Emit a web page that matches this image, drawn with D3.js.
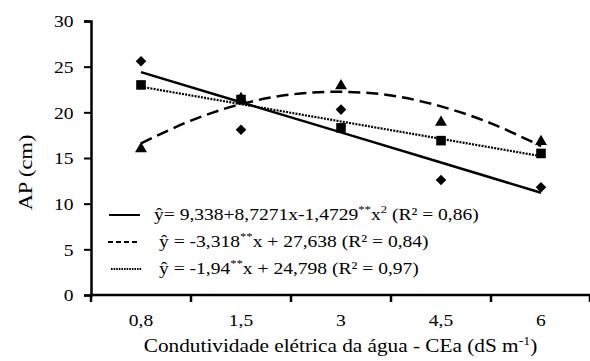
<!DOCTYPE html>
<html>
<head>
<meta charset="utf-8">
<script src="https://cdn.jsdelivr.net/npm/d3@7"></script>
<style>
  html, body { margin: 0; padding: 0; background: #fff; }
  svg text { font-family: "Liberation Serif", "Times New Roman", Times, serif !important; }
</style>
</head>
<body>
<svg id="chart" width="590" height="361"></svg>
<script>
// ---- data ----
const categories = ["0,8", "1,5", "3", "4,5", "6"];
const yTicks = [0, 5, 10, 15, 20, 25, 30];
const diamondValues = [25.6, 18.1, 20.3, 12.6, 11.8];
const triangleValues = [16.0, 21.5, 22.9, 18.9, 16.8];
const squareValues = [23.0, 21.4, 18.3, 16.9, 15.5];
// fitted curves
const solidFit = [24.4, 21.1, 17.8, 14.5, 11.2];           // at category centres
const dashedFitPos = [1, 1.5, 2, 2.5, 3, 3.5, 4, 4.5, 5];   // category positions (1-based)
const dashedFit = [16.6, 19.1, 20.9, 21.95, 22.25, 21.85, 20.65, 18.8, 16.3];
const dottedFit = [22.8, 20.9, 19.0, 17.1, 15.2];
const legendLabels = [
  ["ŷ= 9,338+8,7271x-1,4729", "**", "x", "2", " (R² = 0,86)"],
  ["ŷ = -3,318", "**", "x + 27,638 (R² = 0,84)"],
  ["ŷ = -1,94", "**", "x + 24,798 (R² = 0,97)"]
];
const xTitle = "Condutividade elétrica da água - CEa (dS m";
const yTitle = "AP (cm)";

// ---- layout ----
const svg = d3.select("#chart");
const mLeft = 91, mRight = 591, mTop = 21, mBottom = 295;
const sx = 1.15; // horizontal stretch of the original lettering

const x = d3.scaleBand().domain(categories).range([mLeft, mRight]).padding(0);
const xPos = d3.scaleLinear().domain([0.5, categories.length + 0.5]).range([mLeft, mRight]);
const y = d3.scaleLinear().domain([0, 30]).range([mBottom, mTop]);

const cx = (d, i) => x(categories[i]) + x.bandwidth() / 2;

// axes
const yAxis = d3.axisLeft(y).tickValues(yTicks).tickSize(7).tickPadding(10).tickFormat(d3.format("d"));
const gy = svg.append("g").attr("transform", `translate(${mLeft},0)`).call(yAxis);
gy.select(".domain").attr("stroke", "#000").attr("stroke-width", 2.5);
gy.selectAll(".tick line").attr("stroke", "#000").attr("stroke-width", 2);
gy.selectAll(".tick text").attr("font-size", 17).attr("fill", "#000")
  .attr("x", -17.5 / sx).attr("dy", "0.34em").attr("transform", `scale(${sx},1)`);

const xAxis = d3.axisBottom(x).tickSize(0).tickPadding(31);
const gx = svg.append("g").attr("transform", `translate(0,${mBottom})`).call(xAxis);
gx.select(".domain").attr("stroke", "#000").attr("stroke-width", 2.5)
  .attr("d", `M${mLeft - 1},0H${mRight}`);
gx.selectAll(".tick text").attr("font-size", 17).attr("fill", "#000").attr("dy", "0")
  .attr("transform", `scale(${sx},1)`);
// tick marks at band boundaries
const boundaries = categories.map(c => x(c)).concat([mRight - 1]);
gx.selectAll(".bound").data(boundaries).enter().append("line")
  .attr("x1", d => d).attr("x2", d => d).attr("y1", 0).attr("y2", 7)
  .attr("stroke", "#000").attr("stroke-width", 2.5);

// titles
const xt = svg.append("text").attr("transform", `translate(340.5,352) scale(${sx},1)`)
  .attr("text-anchor", "middle").attr("font-size", 18.5).attr("fill", "#000");
xt.append("tspan").text(xTitle);
xt.append("tspan").attr("font-size", 12).attr("dy", -7).text("-1");
xt.append("tspan").attr("dy", 7).text(")");

svg.append("text").attr("transform", `translate(32,172.5) rotate(-90) scale(${sx},1)`)
  .attr("text-anchor", "middle").attr("font-size", 19.5).attr("fill", "#000").text(yTitle);

// fitted lines
const line = d3.line().x(d => xPos(d[0])).y(d => y(d[1]));
const solidPts = solidFit.map((v, i) => [i + 1, v]);
const dottedPts = dottedFit.map((v, i) => [i + 1, v]);
const dashedPts = dashedFit.map((v, i) => [dashedFitPos[i], v]);

svg.append("path").attr("d", line(solidPts)).attr("fill", "none")
  .attr("stroke", "#000").attr("stroke-width", 2.5);
svg.append("path").attr("d", d3.line().x(d => xPos(d[0])).y(d => y(d[1])).curve(d3.curveCatmullRom)(dashedPts))
  .attr("fill", "none")
  .attr("stroke", "#000").attr("stroke-width", 2.5).attr("stroke-dasharray", "12,6");
svg.append("path").attr("d", line(dottedPts)).attr("fill", "none")
  .attr("stroke", "#000").attr("stroke-width", 2.2).attr("stroke-dasharray", "2,1.2");

// markers
const diamond = d3.symbol().type(d3.symbolSquare).size(56);
const square = d3.symbol().type(d3.symbolSquare).size(92);
const triangle = d3.symbol().type(d3.symbolTriangle).size(62);

svg.append("g").selectAll("path").data(diamondValues).enter().append("path")
  .attr("d", diamond()).attr("fill", "#000")
  .attr("transform", (d, i) => `translate(${cx(d, i)},${y(d)}) rotate(45)`);
svg.append("g").selectAll("path").data(squareValues).enter().append("path")
  .attr("d", square()).attr("fill", "#000")
  .attr("transform", (d, i) => `translate(${cx(d, i)},${y(d)})`);
svg.append("g").selectAll("path").data(triangleValues).enter().append("path")
  .attr("d", triangle()).attr("fill", "#000")
  .attr("transform", (d, i) => `translate(${cx(d, i)},${y(d)})`);

// legend
const legRows = [
  { y: 215, x1: 109, x2: 140, dash: null, tx: 154 },
  { y: 242, x1: 108, x2: 138, dash: "5,3", tx: 159 },
  { y: 269, x1: 111, x2: 142, dash: "1.6,1", tx: 159 }
];
legRows.forEach((r, i) => {
  const l = svg.append("line").attr("x1", r.x1).attr("x2", r.x2).attr("y1", r.y).attr("y2", r.y)
    .attr("stroke", "#000").attr("stroke-width", 2);
  if (r.dash) l.attr("stroke-dasharray", r.dash);
  const t = svg.append("text").attr("transform", `translate(${r.tx},${r.y + 5}) scale(${sx},1)`)
    .attr("font-size", 17).attr("fill", "#000");
  const parts = legendLabels[i];
  if (i === 0) {
    t.append("tspan").text(parts[0]);
    t.append("tspan").attr("font-size", 11).attr("dy", -7).text(parts[1]);
    t.append("tspan").attr("dy", 7).text(parts[2]);
    t.append("tspan").attr("font-size", 11).attr("dy", -7).text(parts[3]);
    t.append("tspan").attr("dy", 7).text(parts[4]);
  } else {
    t.append("tspan").text(parts[0]);
    t.append("tspan").attr("font-size", 11).attr("dy", -7).text(parts[1]);
    t.append("tspan").attr("dy", 7).text(parts[2]);
  }
});
</script>
</body>
</html>
